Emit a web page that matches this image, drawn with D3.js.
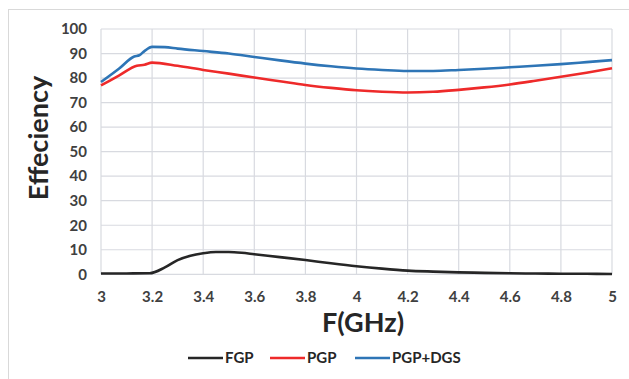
<!DOCTYPE html>
<html>
<head>
<meta charset="utf-8">
<script src="https://cdn.jsdelivr.net/npm/d3@7"></script>
<style>
  html, body { margin: 0; padding: 0; background: #fff; }
  svg { display: block; }
  text { font-family: Lato, "Open Sans", sans-serif; font-weight: bold; }
</style>
</head>
<body>
<svg id="chart" width="629" height="379"></svg>
<script>
// Frequency sweep (GHz) and radiation efficiency (%) for the three ground-plane variants
const freqFGP = [3.0, 3.1, 3.19, 3.25, 3.3, 3.35, 3.4, 3.45, 3.5, 3.55, 3.6, 3.7, 3.8, 3.9, 4.0, 4.1, 4.2, 4.3, 4.4, 4.5, 4.6, 4.7, 4.8, 4.9, 5.0];
const valFGP  = [0.3, 0.35, 0.4, 2.8, 5.8, 7.6, 8.6, 9.1, 9.1, 8.8, 8.2, 7.0, 5.8, 4.5, 3.3, 2.3, 1.5, 1.1, 0.8, 0.6, 0.4, 0.3, 0.25, 0.2, 0.1];

const freqPGP = [3.0, 3.07, 3.14, 3.17, 3.2, 3.3, 3.4, 3.5, 3.6, 3.7, 3.8, 3.9, 4.0, 4.1, 4.2, 4.3, 4.4, 4.5, 4.6, 4.7, 4.8, 4.9, 5.0];
const valPGP  = [77.0, 81.0, 85.0, 85.4, 86.3, 85.0, 83.3, 81.8, 80.2, 78.7, 77.2, 76.0, 75.0, 74.4, 74.1, 74.4, 75.2, 76.2, 77.4, 78.9, 80.5, 82.2, 84.0];

const freqDGS = [3.0, 3.07, 3.13, 3.15, 3.17, 3.2, 3.25, 3.3, 3.4, 3.5, 3.6, 3.7, 3.8, 3.9, 4.0, 4.1, 4.2, 4.3, 4.4, 4.5, 4.6, 4.7, 4.8, 4.9, 5.0];
const valDGS  = [78.4, 83.8, 88.8, 89.3, 91.0, 92.7, 92.6, 92.0, 91.0, 90.0, 88.6, 87.2, 85.9, 84.8, 83.9, 83.3, 82.9, 82.9, 83.3, 83.8, 84.4, 85.0, 85.7, 86.5, 87.3];

const seriesNames = ["FGP", "PGP", "PGP+DGS"];
const xTicks = [3, 3.2, 3.4, 3.6, 3.8, 4, 4.2, 4.4, 4.6, 4.8, 5];
const yTicks = [0, 10, 20, 30, 40, 50, 60, 70, 80, 90, 100];
const xTitle = "F(GHz)";
const yTitle = "Effeciency";

const series = [
  { name: seriesNames[0], x: freqFGP, y: valFGP, color: "#262626" },
  { name: seriesNames[1], x: freqPGP, y: valPGP, color: "#ee2a2a" },
  { name: seriesNames[2], x: freqDGS, y: valDGS, color: "#2e75b6" }
];

const svg = d3.select("#chart");

// outer chart frame
svg.append("rect")
  .attr("x", 8.5).attr("y", 9.5)
  .attr("width", 700).attr("height", 400)
  .attr("fill", "none").attr("stroke", "#d9d9d9").attr("stroke-width", 1);

const plot = { left: 101, right: 612, top: 29, bottom: 274.3 };

const x = d3.scaleLinear().domain([3, 5]).range([plot.left, plot.right]);
const y = d3.scaleLinear().domain([0, 100]).range([plot.bottom, plot.top]);

// gridlines
const grid = svg.append("g").attr("stroke", "#d8dae0").attr("stroke-width", 1.2);
grid.selectAll("line.v").data(xTicks).join("line")
  .attr("class", "v")
  .attr("x1", d => x(d)).attr("x2", d => x(d))
  .attr("y1", plot.top).attr("y2", plot.bottom);
grid.selectAll("line.h").data(yTicks).join("line")
  .attr("class", "h")
  .attr("x1", plot.left).attr("x2", plot.right)
  .attr("y1", d => y(d)).attr("y2", d => y(d));

// axes: tick labels only
const yAxis = d3.axisLeft(y).tickValues(yTicks).tickSize(0).tickPadding(14).tickFormat(d3.format("d"));
svg.append("g")
  .attr("transform", `translate(${plot.left},0)`)
  .call(yAxis)
  .call(g => g.select(".domain").remove())
  .call(g => g.selectAll("text")
    .attr("fill", "#404040").style("font-size", "15px")
    .style("font-family", "Lato, sans-serif").style("font-weight", "bold"));

const xAxis = d3.axisBottom(x).tickValues(xTicks).tickSize(0).tickPadding(17).tickFormat(d3.format("~g"));
svg.append("g")
  .attr("transform", `translate(0,${plot.bottom})`)
  .call(xAxis)
  .call(g => g.select(".domain").remove())
  .call(g => g.selectAll("text")
    .attr("fill", "#404040").style("font-size", "15px")
    .style("font-family", "Lato, sans-serif").style("font-weight", "bold"));

// curves
const line = d3.line().curve(d3.curveMonotoneX);
svg.append("g").selectAll("path").data(series).join("path")
  .attr("d", s => line(s.x.map((f, i) => [x(f), y(s.y[i])])))
  .attr("fill", "none")
  .attr("stroke", s => s.color)
  .attr("stroke-width", 2.6)
  .attr("stroke-linejoin", "round");

// axis titles
svg.append("text")
  .attr("x", 363).attr("y", 332)
  .attr("text-anchor", "middle")
  .attr("fill", "#262626")
  .style("font-size", "27px")
  .text(xTitle);

svg.append("text")
  .attr("transform", "translate(48,138) rotate(-90)")
  .attr("text-anchor", "middle")
  .attr("fill", "#262626")
  .style("font-size", "27px")
  .text(yTitle);

// legend
const legendX = [188, 270, 355];
const legend = svg.append("g");
series.forEach((s, i) => {
  legend.append("line")
    .attr("x1", legendX[i]).attr("x2", legendX[i] + 35)
    .attr("y1", 358).attr("y2", 358)
    .attr("stroke", s.color).attr("stroke-width", 2.6);
  legend.append("text")
    .attr("x", legendX[i] + 37).attr("y", 358)
    .attr("dy", "0.35em")
    .attr("fill", "#262626")
    .style("font-size", "15px")
    .text(s.name);
});
</script>
</body>
</html>
